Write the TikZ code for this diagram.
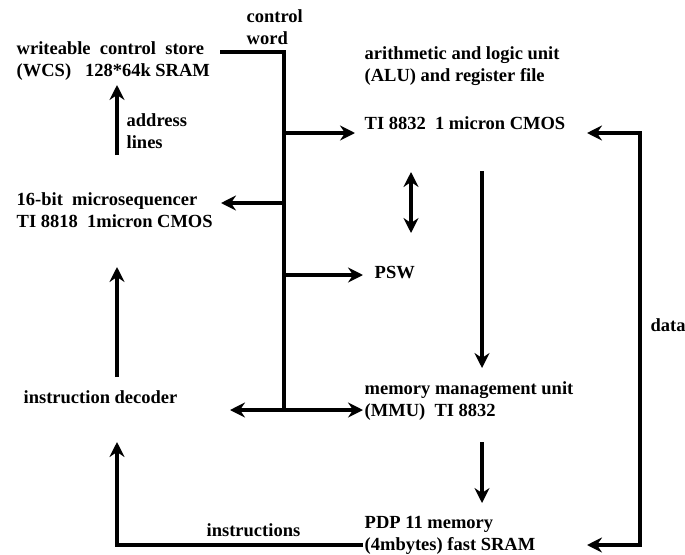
\documentclass[tikz,border=0pt]{standalone}
\usepackage{fontspec}
\setmainfont{Liberation Serif}
\usetikzlibrary{arrows.meta}

\begin{document}
\begin{tikzpicture}[x=1pt,y=-1pt,line width=3.4pt,
	arr/.style={-{Stealth[length=15pt,width=15pt,inset=5pt]}},
	dblarr/.style={{Stealth[length=15pt,width=15pt,inset=5pt]}-{Stealth[length=15pt,width=15pt,inset=5pt]}},
	lbl/.style={anchor=west,align=left,inner sep=0pt,font=\fontsize{18.5}{22}\selectfont\bfseries}]
		%%%%% START %%%%%
		\useasboundingbox (0,0) rectangle (685,554);
		
		% blocks
		\node[lbl] (wcs) at (15,61) {writeable\ \ control\ \ store\\(WCS)\ \ \ 128*64k SRAM};
		\node[lbl] (cword) at (245,27) {control\\word};
		\node[lbl] (addr) at (125,131) {address\\lines};
		\node[lbl] (useq) at (15,210) {16-bit\ \ microsequencer\\TI 8818\ \ 1micron CMOS};
		\node[lbl] (idec) at (22,397) {instruction decoder};
		\node[lbl] (alu) at (363,66) {arithmetic and logic unit\\(ALU) and register file};
		\node[lbl] (alutech) at (363,123) {TI 8832\ \ 1 micron CMOS};
		\node[lbl] (psw) at (373,273) {PSW};
		\node[lbl] (mmu) at (363,401) {memory management unit\\(MMU)\ \ TI 8832};
		\node[lbl] (pdp) at (363,535) {PDP 11 memory\\(4mbytes) fast SRAM};
		\node[lbl] (data) at (649,325) {data};
		\node[lbl] (instr) at (205,530) {instructions};
		
		% bus points
		\coordinate (wcsout) at (220,52);
		\coordinate (bustop) at (284,52);
		\coordinate (busalu) at (284,133);
		\coordinate (busseq) at (284,203);
		\coordinate (buspsw) at (284,275);
		\coordinate (busbot) at (284,410);
		\coordinate (aluin) at (355,133);
		\coordinate (seqin) at (221,203);
		\coordinate (pswin) at (363,275);
		\coordinate (decin) at (230,410);
		\coordinate (mmuin) at (363,410);
		
		% control word bus
		\draw (wcsout) -- (bustop) -- (busbot);
		\draw[arr] (busalu) -- (aluin);
		\draw[arr] (busseq) -- (seqin);
		\draw[arr] (buspsw) -- (pswin);
		\draw[dblarr] (decin) -- (mmuin);
		
		% left column
		\coordinate (seqtop) at (117,155);
		\coordinate (wcsin) at (117,85);
		\coordinate (dectop) at (117,377);
		\coordinate (seqbot) at (117,267);
		\draw[arr] (seqtop) -- (wcsin);
		\draw[arr] (dectop) -- (seqbot);
		
		% right column
		\coordinate (alubot) at (482,171);
		\coordinate (mmutop) at (482,368);
		\coordinate (mmubot) at (482,442);
		\coordinate (pdptop) at (482,503);
		\coordinate (pswup) at (411,172);
		\coordinate (pswdn) at (411,233);
		\draw[arr] (alubot) -- (mmutop);
		\draw[arr] (mmubot) -- (pdptop);
		\draw[dblarr] (pswup) -- (pswdn);
		
		% data and instructions
		\coordinate (aludata) at (587,133);
		\coordinate (pdpdata) at (587,545);
		\coordinate (pdpout) at (363,545);
		\coordinate (decbot) at (117,442);
		\draw[dblarr] (aludata) -- (640,133) -- (640,545) -- (pdpdata);
		\draw[arr] (pdpout) -- (117,545) -- (decbot);
		
		%%%%% END %%%%%
\end{tikzpicture}
\end{document}
